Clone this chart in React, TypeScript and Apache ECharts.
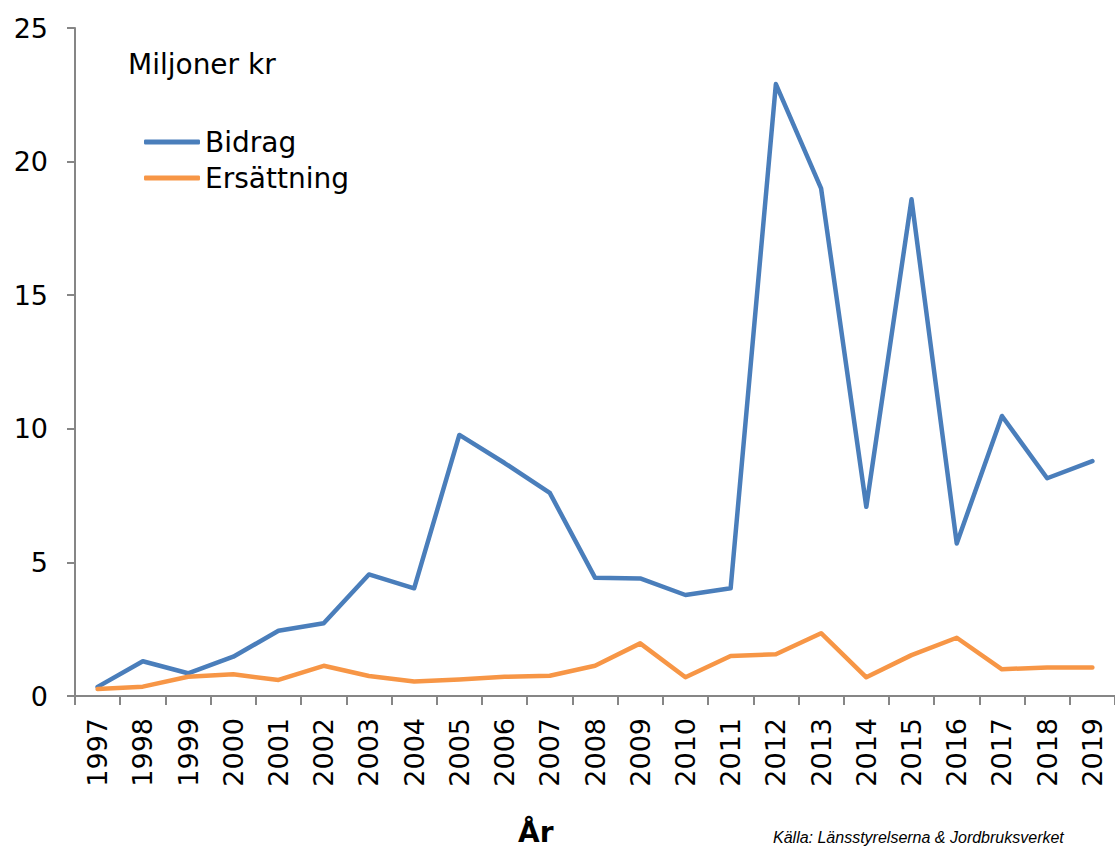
import React, { useEffect, useRef } from "react";
import * as echarts from "echarts";

const years = ["1997","1998","1999","2000","2001","2002","2003","2004","2005","2006","2007","2008","2009","2010","2011","2012","2013","2014","2015","2016","2017","2018","2019"];
const bidrag = [0.34, 1.3, 0.85, 1.47, 2.44, 2.72, 4.55, 4.03, 9.77, 8.72, 7.6, 4.43, 4.4, 3.78, 4.03, 22.9, 19.0, 7.08, 18.59, 5.71, 10.48, 8.15, 8.79];
const ersattning = [0.26, 0.35, 0.72, 0.81, 0.6, 1.13, 0.75, 0.54, 0.62, 0.72, 0.76, 1.13, 1.97, 0.7, 1.5, 1.56, 2.35, 0.7, 1.53, 2.18, 1.0, 1.07, 1.07];
const seriesNames = ["Bidrag", "Ersättning"];
const unitLabel = "Miljoner kr";
const xTitle = "År";
const sourceText = "Källa: Länsstyrelserna & Jordbruksverket";

const FONT = "DejaVu Sans";

export default function App() {
  const ref = useRef<HTMLDivElement>(null);
  useEffect(() => {
    if (!ref.current) return;
    const chart = echarts.init(ref.current, null, { renderer: "svg" });
    const axisColor = "#868686";
    chart.setOption({
      animation: false,
      backgroundColor: "#ffffff",
      title: {
        text: unitLabel,
        left: 123,
        top: 45,
        textStyle: { fontFamily: FONT, fontSize: 28, fontWeight: "normal", color: "#000" },
      },
      legend: {
        orient: "vertical",
        left: 144,
        top: 127,
        padding: 0,
        itemWidth: 56,
        itemHeight: 5,
        itemGap: 6,
        icon: "roundRect",
        data: seriesNames,
        textStyle: { fontFamily: FONT, fontSize: 28, lineHeight: 30, color: "#000" },
      },
      grid: { left: 75, top: 28, width: 1043, height: 668, containLabel: false },
      xAxis: {
        type: "category",
        data: years,
        boundaryGap: true,
        axisLine: { lineStyle: { color: axisColor, width: 2 } },
        axisTick: { show: true, length: 9, interval: 0, lineStyle: { color: axisColor, width: 2 } },
        axisLabel: {
          interval: 0,
          rotate: 90,
          margin: 22,
          fontFamily: FONT,
          fontSize: 27,
          color: "#000",
        },
        splitLine: { show: false },
      },
      yAxis: {
        type: "value",
        min: 0,
        max: 25,
        interval: 5,
        axisLine: { show: true, lineStyle: { color: axisColor, width: 2 } },
        axisTick: { show: true, length: 8, lineStyle: { color: axisColor, width: 2 } },
        axisLabel: { margin: 27, fontFamily: FONT, fontSize: 27, color: "#000" },
        splitLine: { show: false },
      },
      series: [
        {
          name: seriesNames[0],
          type: "line",
          data: bidrag,
          symbol: "none",
          lineStyle: { color: "#4a7ebb", width: 4.5, cap: "round", join: "round" },
          itemStyle: { color: "#4a7ebb" },
        },
        {
          name: seriesNames[1],
          type: "line",
          data: ersattning,
          symbol: "none",
          lineStyle: { color: "#f79646", width: 4.5, cap: "round", join: "round" },
          itemStyle: { color: "#f79646" },
        },
      ],
      graphic: [
        {
          type: "text",
          left: 518,
          top: 818,
          style: { text: xTitle, font: `bold 28px ${FONT}`, fill: "#000" },
        },
        {
          type: "text",
          left: 773,
          top: 829,
          style: { text: sourceText, font: "italic 16px 'Liberation Sans'", fill: "#000" },
        },
      ],
    });
    return () => chart.dispose();
  }, []);
  return (
    <div
      ref={ref}
      style={{ position: "fixed", left: 0, top: 0, width: 1115, height: 848 }}
    />
  );
}
